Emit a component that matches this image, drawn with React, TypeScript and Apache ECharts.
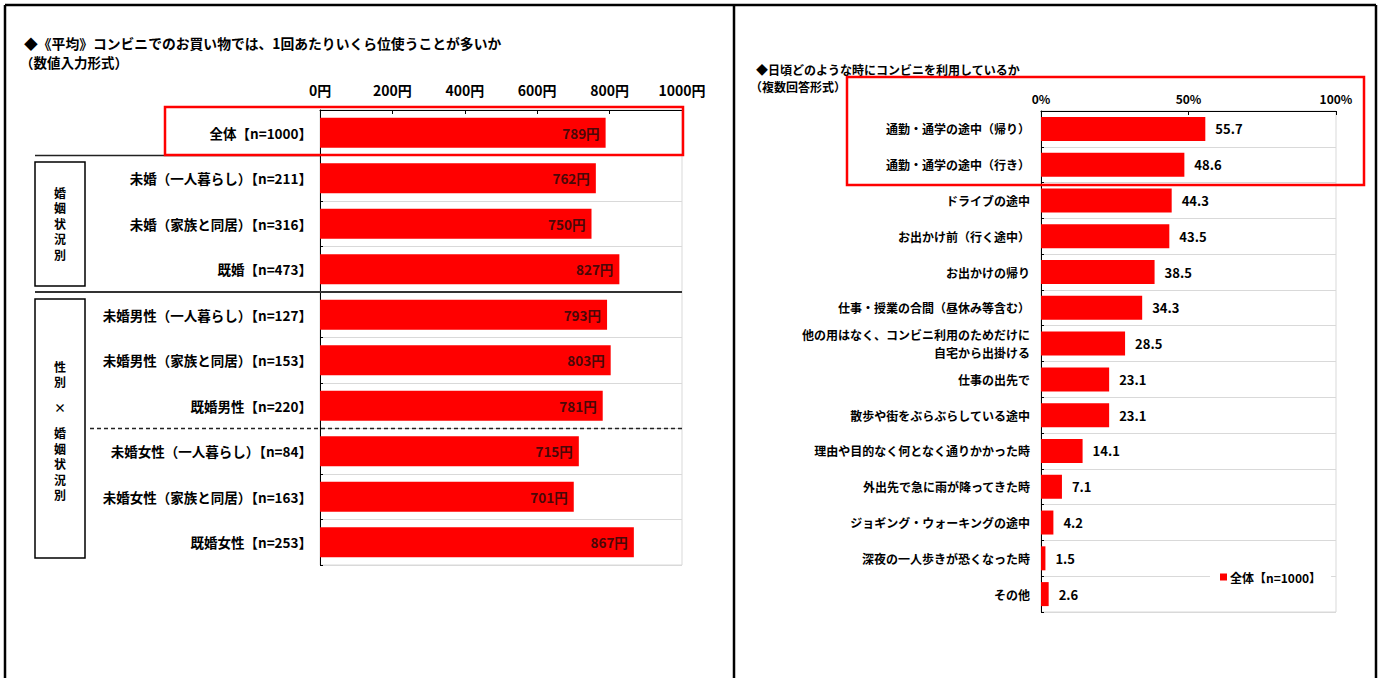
import React, { useEffect, useRef } from "react";
import * as echarts from "echarts";

// 平均金額（左）
const amountCategories = [
  "全体【n=1000】",
  "未婚（一人暮らし）【n=211】",
  "未婚（家族と同居）【n=316】",
  "既婚【n=473】",
  "未婚男性（一人暮らし）【n=127】",
  "未婚男性（家族と同居）【n=153】",
  "既婚男性【n=220】",
  "未婚女性（一人暮らし）【n=84】",
  "未婚女性（家族と同居）【n=163】",
  "既婚女性【n=253】",
];
const amountValues = [789, 762, 750, 827, 793, 803, 781, 715, 701, 867];
const amountAxisMax = 1000;
const amountAxisStep = 200;

// 利用シーン（右）
const sceneCategories = [
  "通勤・通学の途中（帰り）",
  "通勤・通学の途中（行き）",
  "ドライブの途中",
  "お出かけ前（行く途中）",
  "お出かけの帰り",
  "仕事・授業の合間（昼休み等含む）",
  "他の用はなく、コンビニ利用のためだけに\n自宅から出掛ける",
  "仕事の出先で",
  "散歩や街をぶらぶらしている途中",
  "理由や目的なく何となく通りかかった時",
  "外出先で急に雨が降ってきた時",
  "ジョギング・ウォーキングの途中",
  "深夜の一人歩きが恐くなった時",
  "その他",
];
const sceneValues = [55.7, 48.6, 44.3, 43.5, 38.5, 34.3, 28.5, 23.1, 23.1, 14.1, 7.1, 4.2, 1.5, 2.6];
const sceneAxisMax = 100;
const sceneAxisStep = 50;
const sceneSeriesName = "全体【n=1000】";

const FONT = '"Noto Sans CJK JP", "Noto Sans", sans-serif';
const RED = "#ff0000";

// vertical heading: one text element per character
function verticalChars(chars: string[], x: number, ys: number[]) {
  return chars.map((c, i) => ({
    type: "text",
    x,
    y: ys[i],
    style: {
      text: c,
      font: `bold 12px ${FONT}`,
      fill: "#000",
      align: "center",
      verticalAlign: "middle",
    },
  }));
}

export default function App() {
  const ref = useRef<HTMLDivElement>(null);

  useEffect(() => {
    if (!ref.current) return;
    const chart = echarts.init(ref.current, null, { renderer: "svg" });

    const catAxisBase = {
      type: "category",
      inverse: true,
      axisLine: { show: true, lineStyle: { color: "#000", width: 1 } },
      axisTick: { show: true, inside: true, length: 3, lineStyle: { color: "#000" } },
      splitLine: { show: true, lineStyle: { color: "#d9d9d9", width: 1 } },
    };

    const option: any = {
      animation: false,
      backgroundColor: "#fff",
      textStyle: { fontFamily: FONT },
      grid: [
        {
          left: 320,
          top: 110,
          width: 362,
          height: 455,
          show: true,
          borderColor: "#d9d9d9",
          borderWidth: 1,
          containLabel: false,
        },
        {
          left: 1041,
          top: 111,
          width: 295,
          height: 501,
          show: true,
          borderColor: "#d9d9d9",
          borderWidth: 1,
          containLabel: false,
        },
      ],
      xAxis: [
        {
          gridIndex: 0,
          type: "value",
          position: "top",
          min: 0,
          max: amountAxisMax,
          interval: amountAxisStep,
          axisLine: { show: true, lineStyle: { color: "#000", width: 1 } },
          axisTick: { show: true, inside: true, length: 4, lineStyle: { color: "#000" } },
          splitLine: { show: false },
          axisLabel: {
            formatter: (v: number) => `${v}円`,
            color: "#000",
            fontWeight: "bold",
            fontSize: 14,
            fontFamily: FONT,
            margin: 13,
          },
        },
        {
          gridIndex: 1,
          type: "value",
          position: "top",
          min: 0,
          max: sceneAxisMax,
          interval: sceneAxisStep,
          axisLine: { show: true, lineStyle: { color: "#000", width: 1 } },
          axisTick: { show: true, inside: true, length: 4, lineStyle: { color: "#000" } },
          splitLine: { show: false },
          axisLabel: {
            formatter: (v: number) => `${v}%`,
            color: "#000",
            fontWeight: "bold",
            fontSize: 12,
            fontFamily: FONT,
            margin: 7,
          },
        },
      ],
      yAxis: [
        {
          ...catAxisBase,
          gridIndex: 0,
          data: amountCategories,
          axisLabel: {
            color: "#000",
            fontWeight: "bold",
            fontSize: 13.5,
            fontFamily: FONT,
            margin: 8,
          },
        },
        {
          ...catAxisBase,
          gridIndex: 1,
          data: sceneCategories,
          axisLabel: {
            color: "#000",
            fontWeight: "bold",
            fontSize: 12,
            fontFamily: FONT,
            margin: 11,
            lineHeight: 18,
            align: "right",
          },
        },
      ],
      legend: {
        data: [sceneSeriesName],
        left: 1210,
        top: 566,
        backgroundColor: "#fff",
        padding: [5, 10, 5, 10],
        itemWidth: 7,
        itemHeight: 7,
        itemGap: 4,
        icon: "rect",
        selectedMode: false,
        textStyle: { color: "#000", fontWeight: "bold", fontSize: 12, fontFamily: FONT, padding: [0, 0, 0, -2] },
      },
      series: [
        {
          name: "平均金額",
          type: "bar",
          xAxisIndex: 0,
          yAxisIndex: 0,
          data: amountValues,
          barWidth: 30,
          itemStyle: { color: RED },
          label: {
            show: true,
            position: "insideRight",
            distance: 6,
            formatter: (p: any) => `${p.value}円`,
            color: "#4a0808",
            fontWeight: "bold",
            fontSize: 13.5,
            fontFamily: FONT,
          },
        },
        {
          name: sceneSeriesName,
          type: "bar",
          xAxisIndex: 1,
          yAxisIndex: 1,
          data: sceneValues,
          barWidth: 24,
          itemStyle: { color: RED },
          label: {
            show: true,
            position: "right",
            distance: 10,
            formatter: (p: any) => Number(p.value).toFixed(1),
            color: "#000",
            fontWeight: "bold",
            fontSize: 13,
            fontFamily: FONT,
          },
        },
      ],
      graphic: [
        // outer frame and panel divider
        { type: "line", shape: { x1: 5, y1: 5, x2: 1376, y2: 5 }, style: { stroke: "#000", lineWidth: 2.5 } },
        { type: "line", shape: { x1: 5, y1: 5, x2: 5, y2: 678 }, style: { stroke: "#000", lineWidth: 2.5 } },
        { type: "line", shape: { x1: 734, y1: 5, x2: 734, y2: 678 }, style: { stroke: "#000", lineWidth: 2.5 } },
        { type: "line", shape: { x1: 1376, y1: 5, x2: 1376, y2: 678 }, style: { stroke: "#000", lineWidth: 2.5 } },

        // left titles
        {
          type: "text",
          x: 24,
          y: 43,
          style: {
            text: "◆《平均》コンビニでのお買い物では、1回あたりいくら位使うことが多いか",
            font: `bold 13.8px ${FONT}`,
            fill: "#000",
            verticalAlign: "middle",
          },
        },
        {
          type: "text",
          x: 20,
          y: 62,
          style: { text: "（数値入力形式）", font: `bold 13.5px ${FONT}`, fill: "#000", verticalAlign: "middle" },
        },

        // right titles
        {
          type: "text",
          x: 756,
          y: 69,
          style: {
            text: "◆日頃どのような時にコンビニを利用しているか",
            font: `bold 12px ${FONT}`,
            fill: "#000",
            verticalAlign: "middle",
          },
        },
        {
          type: "text",
          x: 750,
          y: 86,
          style: { text: "（複数回答形式）", font: `bold 12px ${FONT}`, fill: "#000", verticalAlign: "middle" },
        },

        // group separators on the left chart
        { type: "line", shape: { x1: 35, y1: 155.5, x2: 320, y2: 155.5 }, style: { stroke: "#222", lineWidth: 1.5 }, z: 10 },
        { type: "line", shape: { x1: 35, y1: 292, x2: 682, y2: 292 }, style: { stroke: "#333", lineWidth: 2 }, z: 10 },
        {
          type: "line",
          shape: { x1: 90, y1: 428.5, x2: 684, y2: 428.5 },
          style: { stroke: "#222", lineWidth: 1.5, lineDash: [4, 3] },
          z: 10,
        },

        // group boxes with vertical headings
        { type: "rect", shape: { x: 35, y: 162, width: 50, height: 124 }, style: { stroke: "#000", lineWidth: 1.5, fill: "none" } },
        { type: "rect", shape: { x: 35, y: 299, width: 50, height: 259 }, style: { stroke: "#000", lineWidth: 1.5, fill: "none" } },
        ...verticalChars(["婚", "姻", "状", "況", "別"], 60, [192, 207.5, 223, 238.5, 254]),
        ...verticalChars(["性", "別", "×", "婚", "姻", "状", "況", "別"], 60, [366, 381.5, 407, 432.5, 448, 463.5, 479, 494.5]),

        // highlight boxes
        { type: "rect", shape: { x: 165, y: 107, width: 518, height: 48 }, style: { stroke: RED, lineWidth: 2.5, fill: "none" }, z: 20 },
        { type: "rect", shape: { x: 847, y: 77, width: 517, height: 108 }, style: { stroke: RED, lineWidth: 2.5, fill: "none" }, z: 20 },
      ],
    };

    chart.setOption(option);
    return () => chart.dispose();
  }, []);

  return (
    <div
      ref={ref}
      style={{ position: "absolute", left: 0, top: 0, width: 1383, height: 678, background: "#fff" }}
    />
  );
}
